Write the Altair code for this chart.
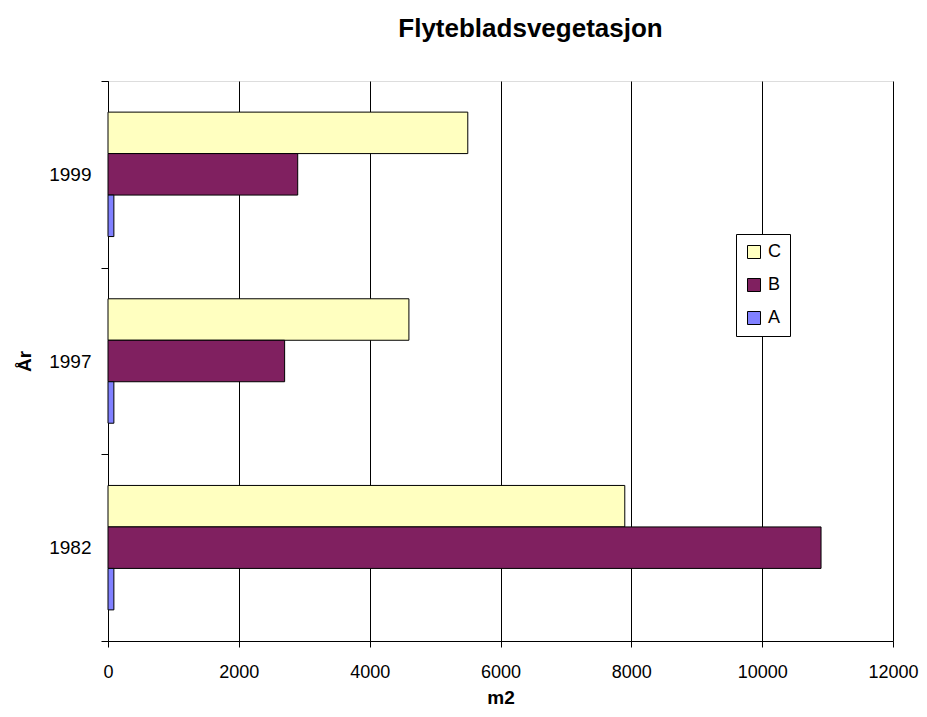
import altair as alt
import pandas as pd

years = ["1999", "1997", "1982"]
series = ["C", "B", "A"]
values_C = [5500, 4600, 7900]
values_B = [2900, 2700, 10900]
values_A = [90, 90, 90]
x_ticks = [0, 2000, 4000, 6000, 8000, 10000, 12000]
colors = ["#FFFFC0", "#802060", "#8080FF"]

rows = []
for s, vals in zip(series, [values_C, values_B, values_A]):
    for y, v in zip(years, vals):
        rows.append({"year": y, "series": s, "value": v})
df = pd.DataFrame(rows)

FONT = "Liberation Sans"
W, H = 785, 560

chart = alt.Chart(df).mark_bar(stroke="black", strokeWidth=1).encode(
    x=alt.X(
        "value:Q",
        scale=alt.Scale(domain=[0, 12000], nice=False),
        axis=alt.Axis(
            values=x_ticks, format="d", title="m2", grid=True, gridColor="black",
            gridOpacity=1, gridWidth=1, domainColor="black", domainWidth=1,
            tickColor="black", tickSize=6, labelFontSize=18, labelFont=FONT,
            labelColor="black", labelPadding=16, titleFontSize=19, titleFont=FONT,
            titleFontWeight="bold", titleColor="black", titleY=62,
            titleBaseline="alphabetic", labelFlush=False,
        ),
    ),
    y=alt.Y(
        "year:N",
        sort=years,
        scale=alt.Scale(paddingInner=0, paddingOuter=0),
        axis=alt.Axis(
            title="År", tickBand="extent", tickSize=7, tickColor="black",
            domainColor="black", domainWidth=1, labelPadding=10, labelFontSize=19,
            labelFont=FONT, labelColor="black", titleFontSize=19, titleFont=FONT,
            titleFontWeight="bold", titleColor="black", titleAngle=270, titleX=-78,
            titleY=280, titleBaseline="alphabetic", titleAlign="center", grid=False,
        ),
    ),
    yOffset=alt.YOffset(
        "series:N", sort=series,
        scale=alt.Scale(domain=series, paddingInner=0, paddingOuter=0.75),
    ),
    fill=alt.Fill(
        "series:N",
        scale=alt.Scale(domain=series, range=colors),
        legend=alt.Legend(
            title=None, orient="none", legendX=628, legendY=153, fillColor="white",
            strokeColor="black", padding=9, labelFontSize=18, labelFont=FONT,
            labelColor="black", symbolType="square", symbolSize=169,
            symbolStrokeColor="black", symbolStrokeWidth=1, rowPadding=15, labelOffset=5,
        ),
    ),
).properties(
    width=W,
    height=H,
    title=alt.TitleParams(
        "Flytebladsvegetasjon", fontSize=26, font=FONT, fontWeight="bold", color="black",
        anchor="middle", dx=30, offset=30,
    ),
    autosize=alt.AutoSizeParams(type="none"),
    padding={"left": 100, "top": 73, "right": 26, "bottom": 68},
).configure_view(
    fill="#E1E1E1", stroke=None
).configure(background="white")

chart.save("out.html", embed_options={"renderer": "svg", "actions": False})
